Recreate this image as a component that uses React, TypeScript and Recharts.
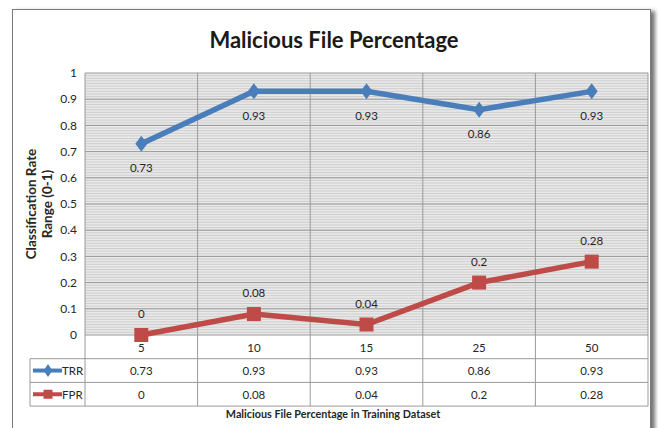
import React from 'react';
import { LineChart, Line, XAxis, YAxis, CartesianGrid, LabelList } from 'recharts';

const categories = ['5', '10', '15', '25', '50'];
const trrValues = [0.73, 0.93, 0.93, 0.86, 0.93];
const fprValues = [0, 0.08, 0.04, 0.2, 0.28];
const yTicks = [0, 0.1, 0.2, 0.3, 0.4, 0.5, 0.6, 0.7, 0.8, 0.9, 1];
const seriesNames = ['TRR', 'FPR'];

const data = categories.map((pct, i) => ({ pct, TRR: trrValues[i], FPR: fprValues[i] }));

const W = 658;
const H = 428;
const PLOT_LEFT = 85;
const PLOT_RIGHT = 648;
const PLOT_TOP = 73;
const PLOT_BOTTOM = 335;
const Y_AXIS_W = 45;
const X_AXIS_H = 71;
const ROW_H = 23.7;
const TABLE_LEFT = 30;
const BAND = (PLOT_RIGHT - PLOT_LEFT) / categories.length;

const BLUE = '#4a7ebb';
const RED = '#be4b48';
const GRID = '#9a9a9a';
const TEXT = '#262626';
const FONT = 'Lato, "Open Sans", sans-serif';

// hatch-like background: thin lines every 0.01 of the value range
const minorPoints = Array.from({ length: 99 }, (_, i) => PLOT_BOTTOM - ((i + 1) / 100) * (PLOT_BOTTOM - PLOT_TOP));
const boundaries = Array.from({ length: categories.length + 1 }, (_, i) => PLOT_LEFT + i * BAND);

const Diamond = ({ cx, cy, size = 7 }: { cx: number; cy: number; size?: number }) => (
  <path d={`M${cx},${cy - size - 1} L${cx + size - 1},${cy} L${cx},${cy + size + 1} L${cx - size + 1},${cy} Z`} fill={BLUE} />
);

const Square = ({ cx, cy, size = 7 }: { cx: number; cy: number; size?: number }) => (
  <rect x={cx - size} y={cy - size} width={size * 2} height={size * 2} fill={RED} />
);

const TableTick = (props: any) => {
  const { x, payload } = props;
  const i = payload.index;
  const rowTop = [PLOT_BOTTOM, PLOT_BOTTOM + ROW_H, PLOT_BOTTOM + 2 * ROW_H];
  const tableBottom = PLOT_BOTTOM + 3 * ROW_H;
  const left = x - BAND / 2;
  const right = x + BAND / 2;
  const textProps = { textAnchor: 'middle' as const, dominantBaseline: 'central' as const, fontSize: 11.5, fill: TEXT };
  return (
    <g>
      <line x1={left} y1={PLOT_BOTTOM} x2={left} y2={tableBottom} stroke={GRID} />
      {i === categories.length - 1 && <line x1={right} y1={PLOT_BOTTOM} x2={right} y2={tableBottom} stroke={GRID} />}
      {i === 0 && (
        <g>
          <line x1={TABLE_LEFT} y1={rowTop[1]} x2={PLOT_RIGHT} y2={rowTop[1]} stroke={GRID} />
          <line x1={TABLE_LEFT} y1={rowTop[2]} x2={PLOT_RIGHT} y2={rowTop[2]} stroke={GRID} />
          <line x1={TABLE_LEFT} y1={tableBottom} x2={PLOT_RIGHT} y2={tableBottom} stroke={GRID} />
          <line x1={TABLE_LEFT} y1={rowTop[1]} x2={TABLE_LEFT} y2={tableBottom} stroke={GRID} />
          {seriesNames.map((name, k) => {
            const cy = rowTop[1 + k] + ROW_H / 2;
            const color = k === 0 ? BLUE : RED;
            return (
              <g key={name}>
                <line x1={TABLE_LEFT + 3} y1={cy} x2={TABLE_LEFT + 32} y2={cy} stroke={color} strokeWidth={4} />
                {k === 0 ? <Diamond cx={TABLE_LEFT + 18} cy={cy} size={5.5} /> : <Square cx={TABLE_LEFT + 18} cy={cy} size={4.5} />}
                <text x={TABLE_LEFT + 32} y={cy} dominantBaseline="central" fontSize={11.5} fill={TEXT}>{name}</text>
              </g>
            );
          })}
        </g>
      )}
      <text x={x} y={rowTop[0] + ROW_H / 2 + 1} {...textProps}>{payload.value}</text>
      <text x={x} y={rowTop[1] + ROW_H / 2} {...textProps}>{trrValues[i]}</text>
      <text x={x} y={rowTop[2] + ROW_H / 2} {...textProps}>{fprValues[i]}</text>
    </g>
  );
};

export default function App() {
  return (
    <div style={{ position: 'absolute', left: 0, top: 0, width: W, height: H, background: '#fff', fontFamily: FONT, overflow: 'hidden' }}>
      <div
        style={{
          position: 'absolute',
          left: 12,
          top: 9,
          width: 637,
          height: 440,
          border: '1.5px solid #7a7a7a',
          boxShadow: '4px 2px 4px rgba(0,0,0,0.55)',
        }}
      />
      <div style={{ position: 'absolute', left: 134, top: 26, width: 400, textAlign: 'center', fontSize: 22, fontWeight: 700, color: '#1a1a1a' }}>
        Malicious File Percentage
      </div>
      <div
        style={{
          position: 'absolute',
          left: 39 - 80,
          top: 204 - 16,
          width: 160,
          height: 32,
          transform: 'rotate(-90deg)',
          textAlign: 'center',
          fontSize: 13.5,
          fontWeight: 700,
          lineHeight: '16px',
          color: TEXT,
        }}
      >
        Classification Rate<br />Range (0-1)
      </div>
      <div style={{ position: 'absolute', left: 133, top: 407, width: 400, textAlign: 'center', fontSize: 10.8, fontWeight: 700, color: TEXT }}>
        Malicious File Percentage in Training Dataset
      </div>
      <div style={{ position: 'absolute', left: 0, top: 0 }}>
        <LineChart
          width={W}
          height={H}
          data={data}
          margin={{ top: PLOT_TOP, right: W - PLOT_RIGHT, bottom: H - PLOT_BOTTOM - X_AXIS_H, left: PLOT_LEFT - Y_AXIS_W }}
        >
          <CartesianGrid fill="#e9e9e9" stroke="#cdcdcd" vertical={false} horizontalPoints={minorPoints} />
          <CartesianGrid stroke={GRID} verticalPoints={boundaries} />
          <XAxis
            dataKey="pct"
            height={X_AXIS_H}
            axisLine={false}
            tickLine={false}
            tick={<TableTick />}
            interval={0}
            padding={{ left: BAND / 2, right: BAND / 2 }}
          />
          <YAxis
            width={Y_AXIS_W}
            domain={[0, 1]}
            ticks={yTicks}
            axisLine={false}
            tickLine={false}
            tick={{ fill: TEXT, fontSize: 12 }}
            tickFormatter={(v: number) => String(+v.toFixed(1))}
          />
          <Line
            dataKey="TRR"
            stroke={BLUE}
            strokeWidth={5.5}
            isAnimationActive={false}
            dot={(p: any) => <Diamond key={`d${p.index}`} cx={p.cx} cy={p.cy} />}
          >
            <LabelList dataKey="TRR" position="bottom" offset={20} fill={TEXT} fontSize={11.5} />
          </Line>
          <Line
            dataKey="FPR"
            stroke={RED}
            strokeWidth={5.5}
            isAnimationActive={false}
            dot={(p: any) => <Square key={`s${p.index}`} cx={p.cx} cy={p.cy} />}
          >
            <LabelList dataKey="FPR" position="top" offset={17} fill={TEXT} fontSize={11.5} />
          </Line>
        </LineChart>
      </div>
    </div>
  );
}
